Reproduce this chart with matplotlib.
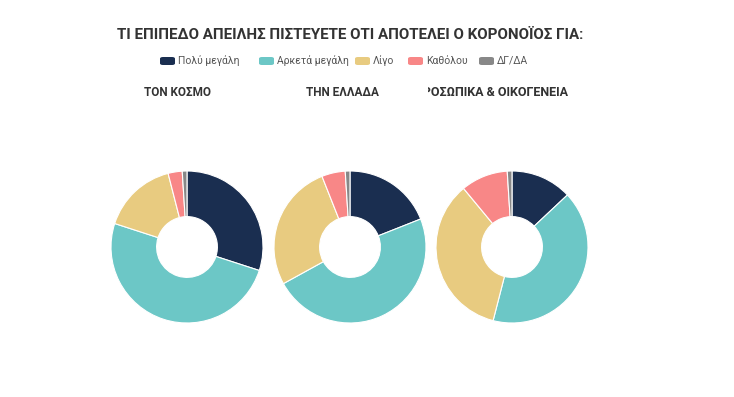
import matplotlib.pyplot as plt
from matplotlib.patches import FancyBboxPatch

plt.rcParams['font.family'] = ['Roboto', 'DejaVu Sans']

categories = ["Πολύ μεγάλη", "Αρκετά μεγάλη", "Λίγο", "Καθόλου", "ΔΓ/ΔΑ"]
colors = ["#1a2e50", "#6cc7c6", "#e8cb80", "#f88787", "#888888"]
panel_titles = ["ΤΟΝ ΚΟΣΜΟ", "ΤΗΝ ΕΛΛΑΔΑ", "ΠΡΟΣΩΠΙΚΑ & ΟΙΚΟΓΕΝΕΙΑ"]
kosmo = [30, 50, 16, 3, 1]
ellada = [19, 48, 27, 5, 1]
prosopika = [13, 41, 35, 10, 1]
values = [kosmo, ellada, prosopika]

W, H = 734, 397
fig = plt.figure(figsize=(W / 100, H / 100), dpi=100)

fig.text(350 / W, 1 - 35 / H, "ΤΙ ΕΠΙΠΕΔΟ ΑΠΕΙΛΗΣ ΠΙΣΤΕΥΕΤΕ ΟΤΙ ΑΠΟΤΕΛΕΙ Ο ΚΟΡΟΝΟΪΟΣ ΓΙΑ:",
         ha="center", va="center", fontsize=10.9, fontweight="bold", color="#333333")

# legend drawn by hand to keep spacing like the original
patch_x = [160, 259, 355, 408, 479]
for px, lab, c in zip(patch_x, categories, colors):
    fig.patches.append(FancyBboxPatch((px / W, 1 - 65 / H), 15 / W, 8 / H,
                                      boxstyle="round,pad=0,rounding_size=0.004",
                                      transform=fig.transFigure, facecolor=c, edgecolor="none"))
    fig.text((px + 18) / W, 1 - 61 / H, lab, ha="left", va="center", fontsize=7.5, color="#555555")

centers = [187, 350, 512]
r = 76
for cx, vals in zip(centers, values):
    ax = fig.add_axes([(cx - r) / W, (H - 247 - r) / H, 2 * r / W, 2 * r / H])
    ax.pie(vals, colors=colors, startangle=90, counterclock=False, radius=1,
           wedgeprops=dict(width=0.6, edgecolor="white", linewidth=0.8))
    ax.set_xlim(-1, 1)
    ax.set_ylim(-1, 1)
    ax.set_aspect("equal")
    ax.axis("off")

# subtitles; the third one is cut off on the left in the original
fig.text(178 / W, 1 - 93 / H, panel_titles[0], ha="center", va="center",
         fontsize=8.5, fontweight="bold", color="#333333")
fig.text(342 / W, 1 - 93 / H, panel_titles[1], ha="center", va="center",
         fontsize=8.5, fontweight="bold", color="#333333")
cax = fig.add_axes([428 / W, 1 - 105 / H, 160 / W, 25 / H])
cax.axis("off")
cax.set_xlim(428, 588)
cax.set_ylim(0, 1)
t = cax.text(414, 0.5, panel_titles[2], ha="left", va="center",
             fontsize=9, fontweight="bold", color="#333333")
t.set_clip_box(cax.bbox)
t.set_clip_on(True)

fig.savefig("out.png", dpi=100)
